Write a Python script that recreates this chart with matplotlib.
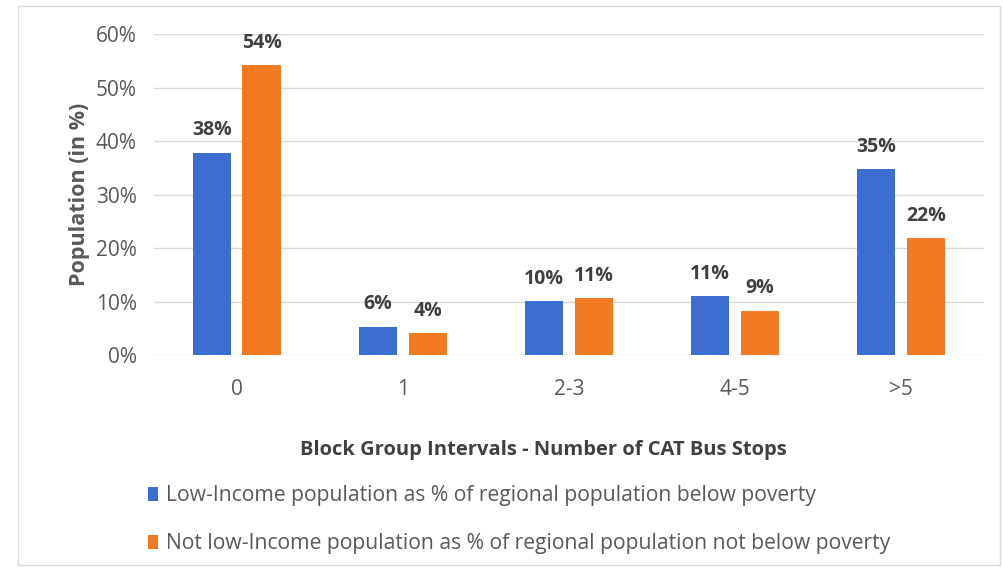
import matplotlib
matplotlib.use("Agg")
import matplotlib.pyplot as plt
from matplotlib.patches import Rectangle
import numpy as np

categories = ["0", "1", "2-3", "4-5", ">5"]
low_income = [0.378, 0.053, 0.101, 0.110, 0.348]
not_low_income = [0.542, 0.041, 0.106, 0.083, 0.219]
low_labels = ["38%", "6%", "10%", "11%", "35%"]
not_low_labels = ["54%", "4%", "11%", "9%", "22%"]
yticks = [0, 0.1, 0.2, 0.3, 0.4, 0.5, 0.6]
ytick_labels = ["0%", "10%", "20%", "30%", "40%", "50%", "60%"]
series_names = ["Low-Income population as % of regional population below poverty",
                "Not low-Income population as % of regional population not below poverty"]

plt.rcParams['font.family'] = ['Open Sans', 'DejaVu Sans']
BLUE = "#3C6DD0"
ORANGE = "#F27A22"
GRAY = "#595959"

fig = plt.figure(figsize=(10.04, 5.71), dpi=100)
ax = fig.add_axes([0.153, 0.378, 0.827, 0.562])

x = np.arange(len(categories))
w = 0.23
gap = 0.07
b1 = ax.bar(x - (w + gap) / 2, low_income, w, color=BLUE, label=series_names[0], zorder=3)
b2 = ax.bar(x + (w + gap) / 2, not_low_income, w, color=ORANGE, label=series_names[1], zorder=3)

for bars, labs in ((b1, low_labels), (b2, not_low_labels)):
    for rect, lab in zip(bars, labs):
        ax.annotate(lab, (rect.get_x() + rect.get_width() / 2, rect.get_height()),
                    xytext=(0, 9), textcoords="offset points", ha="center", va="bottom",
                    fontsize=14, fontweight="bold", color="#404040")

ax.set_xlim(-0.5, len(categories) - 0.5)
ax.set_ylim(0, 0.6)
ax.set_yticks(yticks)
ax.set_yticklabels(ytick_labels)
ax.set_xticks(x)
ax.set_xticklabels(categories)
ax.tick_params(axis="x", length=0, pad=17, labelsize=15, labelcolor=GRAY)
ax.tick_params(axis="y", length=0, pad=12, labelsize=15, labelcolor=GRAY)
ax.grid(axis="y", color="#D9D9D9", linewidth=1, zorder=0)
for s in ax.spines.values():
    s.set_visible(False)
ax.set_ylabel("Population (in %)", fontsize=15.5, fontweight="bold", color=GRAY, labelpad=4)

fig.text(543 / 1004, 1 - 450 / 571, "Block Group Intervals - Number of CAT Bus Stops",
         ha="center", va="center", fontsize=14.5, fontweight="bold", color="#404040")

fig.legend(handles=[b1, b2], labels=series_names, loc="upper left",
           bbox_to_anchor=(140 / 1004, 1 - 477 / 571), frameon=False,
           fontsize=15.2, labelcolor=GRAY, handlelength=0.45, handleheight=0.7,
           handletextpad=0.4, labelspacing=1.28, borderaxespad=0)

fig.patches.append(Rectangle((18 / 1004, 6 / 571), 982 / 1004, 559 / 571,
                             transform=fig.transFigure, fill=False,
                             edgecolor="#D9D9D9", linewidth=1))

fig.savefig("out.png", dpi=100)
